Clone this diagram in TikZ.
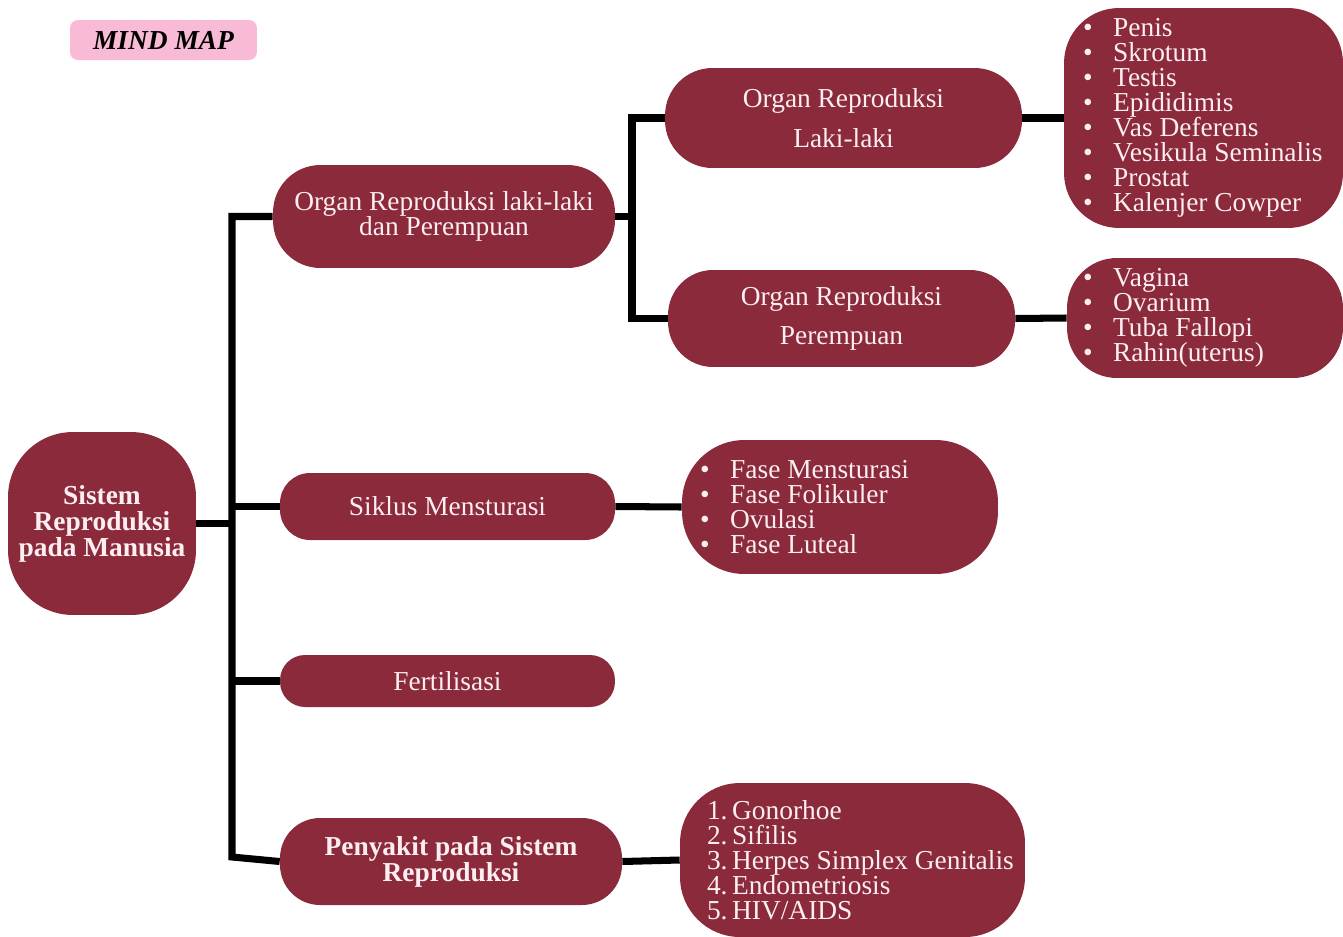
\documentclass[tikz,border=0pt]{standalone}
\usepackage{fontspec}
\setmainfont{Liberation Serif}
\usepackage{xcolor}
\usepackage{tikz}

\definecolor{maroon}{HTML}{8A2A3B}
\definecolor{petal}{HTML}{FCEEF1}
\definecolor{pinktag}{HTML}{F8BAD5}
\newcommand{\bul}{\textbullet\hspace{0.75em}}

\begin{document}
\begin{tikzpicture}[
  x=0.02cm, y=-0.02cm,
  bubble/.style={fill=maroon, text=petal, inner sep=0pt, align=center,
    font={\fontsize{15.6}{14.2}\selectfont\lineskiplimit=-8pt}},
  headbubble/.style={bubble, font={\fontsize{15.6}{14.8}\selectfont\bfseries\lineskiplimit=-8pt}},
  tallbubble/.style={bubble, font={\fontsize{15.6}{22.5}\selectfont}},
  listtext/.style={text=petal, inner sep=0pt, align=left, anchor=west,
    font={\fontsize{15.6}{14.2}\selectfont\lineskiplimit=-8pt}},
  link/.style={line width=4pt}
]
\useasboundingbox (0,0) rectangle (1343,937);

\node[fill=pinktag, rounded corners=0.16cm, minimum width=3.74cm, minimum height=0.8cm,
  font={\fontsize{15.6}{18}\selectfont\bfseries\itshape}] (title) at (163.5,40) {MIND MAP};

\node[headbubble, minimum width=3.76cm, minimum height=3.66cm, rounded corners=1.3cm]
  (root) at (102,523.5) {Sistem\\Reproduksi\\pada Manusia};

\node[bubble, minimum width=6.84cm, minimum height=2.06cm, rounded corners=0.95cm]
  (organ) at (444,216.5) {Organ Reproduksi laki-laki\\dan Perempuan};
\node[bubble, minimum width=6.7cm, minimum height=1.34cm, rounded corners=0.6cm]
  (siklus) at (447.5,506.5) {Siklus Mensturasi};
\node[bubble, minimum width=6.7cm, minimum height=1.04cm, rounded corners=0.5cm]
  (fertil) at (447.5,681) {Fertilisasi};
\node[headbubble, minimum width=6.84cm, minimum height=1.74cm, rounded corners=0.8cm]
  (penyakit) at (451,861.5) {Penyakit pada Sistem\\Reproduksi};

\node[tallbubble, minimum width=7.14cm, minimum height=2cm, rounded corners=0.95cm]
  (laki) at (843.5,118) {Organ Reproduksi\\Laki-laki};
\node[tallbubble, minimum width=6.94cm, minimum height=1.94cm, rounded corners=0.9cm]
  (perempuan) at (841.5,318.5) {Organ Reproduksi\\Perempuan};

\node[bubble, minimum width=5.58cm, minimum height=4.4cm, rounded corners=1.1cm]
  (lakilist) at (1203.5,118) {};
\node[listtext] (lakitext) at ([xshift=0.38cm]lakilist.west)
  {\bul Penis\\\bul Skrotum\\\bul Testis\\\bul Epididimis\\\bul Vas Deferens\\
   \bul Vesikula Seminalis\\\bul Prostat\\\bul Kalenjer Cowper};

\node[bubble, minimum width=5.52cm, minimum height=2.4cm, rounded corners=1cm]
  (perlist) at (1205,318) {};
\node[listtext] (pertext) at ([xshift=0.32cm]perlist.west)
  {\bul Vagina\\\bul Ovarium\\\bul Tuba Fallopi\\\bul Rahin(uterus)};

\node[bubble, minimum width=6.32cm, minimum height=2.68cm, rounded corners=1.25cm]
  (fase) at (840,507) {};
\node[listtext] (fasetext) at ([xshift=0.36cm]fase.west)
  {\bul Fase Mensturasi\\\bul Fase Folikuler\\\bul Ovulasi\\\bul Fase Luteal};

\node[bubble, minimum width=6.9cm, minimum height=3.08cm, rounded corners=1.2cm]
  (penyakitlist) at (852.5,860) {};
\node[listtext] (penyakittext) at ([xshift=0.54cm]penyakitlist.west)
  {1.\,Gonorhoe\\2.\,Sifilis\\3.\,Herpes Simplex Genitalis\\4.\,Endometriosis\\5.\,HIV/AIDS};

\coordinate (spine) at (232,857);
\coordinate (fork) at (632,216.5);

\draw[link] (organ.west) -| (spine) -- (penyakit.west);
\draw[link] (root.east) -- (root.east -| spine);
\draw[link] (siklus.west -| spine) -- (siklus.west);
\draw[link] (fertil.west -| spine) -- (fertil.west);
\draw[link] (organ.east) -- (fork);
\draw[link] (laki.west) -| (fork) |- (perempuan.west);
\draw[link] (laki.east) -- (lakilist.west);
\draw[link] (perempuan.east) -- (perlist.west);
\draw[link] (siklus.east) -- (fase.west);
\draw[link] (penyakit.east) -- (penyakitlist.west);
\end{tikzpicture}
\end{document}
